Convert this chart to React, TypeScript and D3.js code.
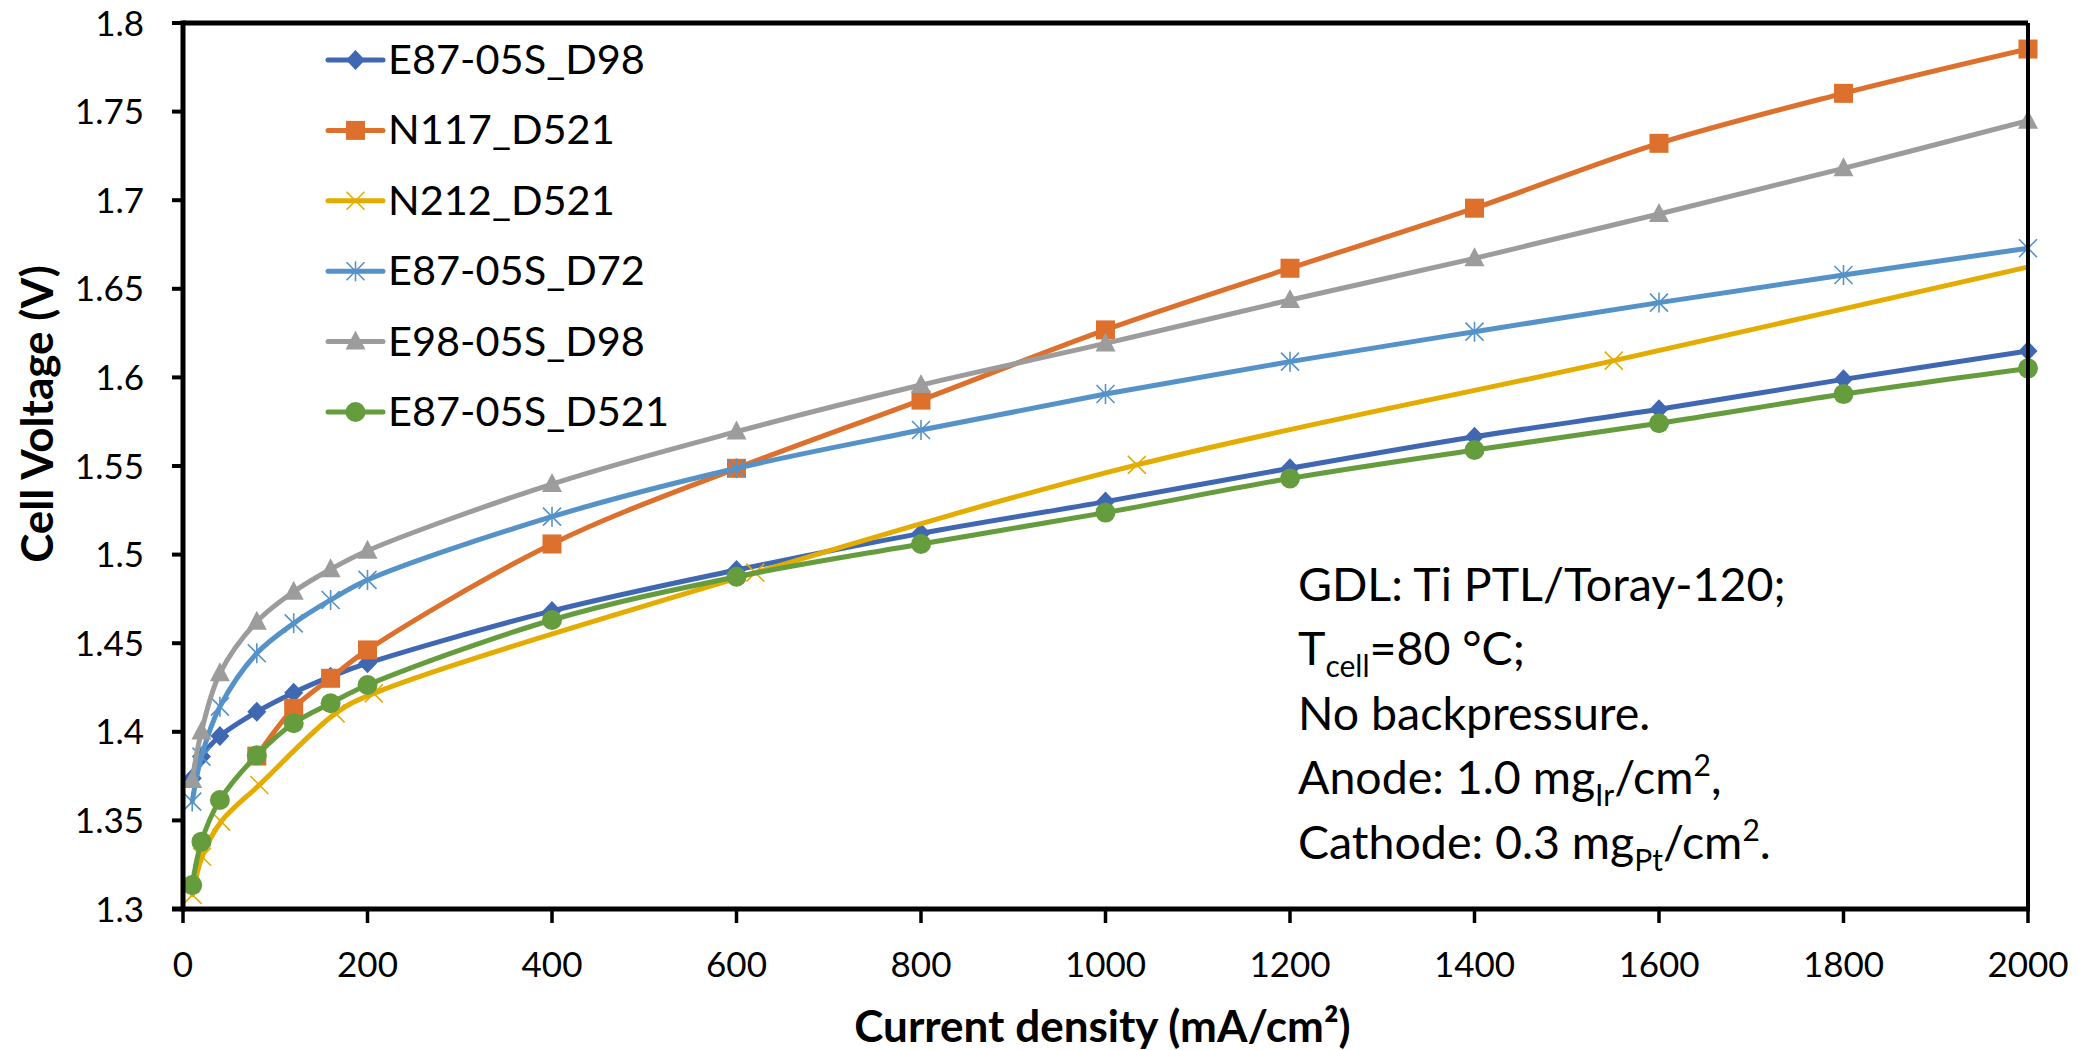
import React from 'react';
import * as d3 from 'd3';

const W = 2079;
const H = 1050;

// ---- data ----
const currentStd = [10, 20, 40, 80, 120, 160, 200, 400, 600, 800, 1000, 1200, 1400, 1600, 1800, 2000];
const currentN117 = [80, 120, 160, 200, 400, 600, 800, 1000, 1200, 1400, 1600, 1800, 2000];
const currentN212 = [10.34, 20.68, 41.36, 82.72, 165.4, 206.8, 620.4, 1034, 1551, 2068];

const vE87D98 = [1.3738, 1.386, 1.3976, 1.4113, 1.4221, 1.4311, 1.4387, 1.4682, 1.4913, 1.512, 1.5299, 1.5487, 1.5665, 1.582, 1.5989, 1.6149];
const vN117D521 = [1.3863, 1.4133, 1.4302, 1.4462, 1.506, 1.5487, 1.5872, 1.6268, 1.6616, 1.6955, 1.7321, 1.7603, 1.7853];
const vN212D521 = [1.308, 1.3295, 1.3493, 1.37, 1.4104, 1.4217, 1.4898, 1.5506, 1.6095, 1.6703];
const vE87D72 = [1.3606, 1.386, 1.4142, 1.4443, 1.4612, 1.4744, 1.4857, 1.5214, 1.5487, 1.5703, 1.5906, 1.6089, 1.6258, 1.6422, 1.6578, 1.6729];
const vE98D98 = [1.3728, 1.4001, 1.433, 1.4621, 1.479, 1.4917, 1.5022, 1.5398, 1.5694, 1.5957, 1.6192, 1.6437, 1.6672, 1.6922, 1.718, 1.7449];
const vE87D521 = [1.3135, 1.338, 1.3615, 1.3867, 1.4048, 1.4161, 1.4264, 1.4631, 1.4875, 1.506, 1.5237, 1.543, 1.559, 1.5741, 1.5906, 1.6051];

const seriesNames = ['E87-05S_D98', 'N117_D521', 'N212_D521', 'E87-05S_D72', 'E98-05S_D98', 'E87-05S_D521'];
const seriesColors = ['#3F67B2', '#DE702D', '#E5AC00', '#5592C8', '#9C9C9C', '#659C3D'];
const seriesShapes = ['diamond', 'square', 'x', 'star', 'triangle', 'circle'];
const seriesX = [currentStd, currentN117, currentN212, currentStd, currentStd, currentStd];
const seriesY = [vE87D98, vN117D521, vN212D521, vE87D72, vE98D98, vE87D521];

const xTicks = [0, 200, 400, 600, 800, 1000, 1200, 1400, 1600, 1800, 2000];
const yTicks = [1.3, 1.35, 1.4, 1.45, 1.5, 1.55, 1.6, 1.65, 1.7, 1.75, 1.8];

const xTitle = 'Current density (mA/cm²)';
const yTitle = 'Cell Voltage (V)';

// ---- layout ----
const PL = 183, PR = 2028, PT = 23, PB = 909;
const FONT = 'Lato, "Open Sans", sans-serif';

function Marker({ shape, x, y, color }: { shape: string; x: number; y: number; color: string }) {
  switch (shape) {
    case 'diamond':
      return <path d={`M${x},${y - 10}L${x + 9.5},${y}L${x},${y + 10}L${x - 9.5},${y}Z`} fill={color} />;
    case 'square':
      return <rect x={x - 9.5} y={y - 9.5} width={19} height={19} fill={color} />;
    case 'x':
      return (
        <path d={`M${x - 9},${y - 9}L${x + 9},${y + 9}M${x - 9},${y + 9}L${x + 9},${y - 9}`}
          stroke={color} strokeWidth={1.6} fill="none" />
      );
    case 'star':
      return (
        <path d={`M${x - 9},${y - 9}L${x + 9},${y + 9}M${x - 9},${y + 9}L${x + 9},${y - 9}M${x},${y - 10}L${x},${y + 10}`}
          stroke={color} strokeWidth={1.6} fill="none" />
      );
    case 'triangle':
      return <path d={`M${x},${y - 11}L${x + 10},${y + 8}L${x - 10},${y + 8}Z`} fill={color} />;
    case 'circle':
    default:
      return <circle cx={x} cy={y} r={10} fill={color} />;
  }
}

export default function App() {
  const x = d3.scaleLinear().domain([0, 2000]).range([PL, PR]);
  const y = d3.scaleLinear().domain([1.3, 1.8]).range([PB, PT]);

  const line = d3
    .line<[number, number]>()
    .x((d) => x(d[0]))
    .y((d) => y(d[1]))
    .curve(d3.curveCatmullRom.alpha(0.5));

  const legendX0 = 328, legendX1 = 383, legendTextX = 388, legendY0 = 60, legendDY = 70.4;

  const annX = 1298, annY0 = 601, annDY = 64.4;

  return (
    <svg width={W} height={H} style={{ position: 'absolute', left: 0, top: 0, background: '#fff' }}
      fontFamily={FONT}>
      <rect x={0} y={0} width={W} height={H} fill="#fff" />
      <defs>
        <clipPath id="plotClip">
          <rect x={PL} y={PT} width={PR - PL} height={PB - PT} />
        </clipPath>
      </defs>

      {/* series */}
      {seriesNames.map((name, i) => {
        const pts: [number, number][] = seriesX[i].map((xv, j) => [xv, seriesY[i][j]]);
        return (
          <g key={name}>
            <path d={line(pts) || ''} fill="none" stroke={seriesColors[i]} strokeWidth={5}
              strokeLinejoin="round" strokeLinecap="round" clipPath="url(#plotClip)" />
            {pts.filter((p) => p[0] <= 2000).map((p, j) => (
              <Marker key={j} shape={seriesShapes[i]} x={x(p[0])} y={y(p[1])} color={seriesColors[i]} />
            ))}
          </g>
        );
      })}

      {/* axes / frame */}
      <line x1={PL} x2={PR} y1={PT} y2={PT} stroke="#000" strokeWidth={5} />
      <line x1={PR} x2={PR} y1={PT} y2={PB} stroke="#000" strokeWidth={4} />
      <line x1={PL} x2={PL} y1={PT - 2.5} y2={PB + 2.5} stroke="#000" strokeWidth={5} />
      <line x1={PL - 11} x2={PR + 2} y1={PB} y2={PB} stroke="#000" strokeWidth={5} />

      {yTicks.map((t) => (
        <g key={t}>
          <line x1={PL - 11} x2={PL} y1={y(t)} y2={y(t)} stroke="#000" strokeWidth={4} />
          <text x={144} y={y(t) + 12.5} textAnchor="end" fontSize={35} fill="#000">
            {d3.format('')(+t.toFixed(2))}
          </text>
        </g>
      ))}
      {xTicks.map((t) => (
        <g key={t}>
          <line x1={x(t)} x2={x(t)} y1={PB} y2={PB + 14} stroke="#000" strokeWidth={3.5} />
          <text x={x(t)} y={977} textAnchor="middle" fontSize={35} fill="#000">
            {t}
          </text>
        </g>
      ))}

      {/* axis titles */}
      <text x={(PL + PR) / 2 - 3} y={1042} textAnchor="middle" fontSize={44} fontWeight="bold" fill="#000">
        {xTitle}
      </text>
      <text transform={`translate(53, ${(PT + PB) / 2 - 52}) rotate(-90)`} textAnchor="middle" fontSize={44}
        fontWeight="bold" fill="#000">
        {yTitle}
      </text>

      {/* legend */}
      {seriesNames.map((name, i) => {
        const ly = legendY0 + i * legendDY;
        return (
          <g key={name}>
            <line x1={legendX0} x2={legendX1} y1={ly} y2={ly} stroke={seriesColors[i]} strokeWidth={5}
              strokeLinecap="round" />
            <Marker shape={seriesShapes[i]} x={(legendX0 + legendX1) / 2} y={ly} color={seriesColors[i]} />
            <text x={legendTextX} y={ly + 14} fontSize={41.5} fill="#000">
              {name}
            </text>
          </g>
        );
      })}

      {/* annotation */}
      <g fontSize={46.5} fill="#000">
        <text x={annX} y={annY0}>GDL: Ti PTL/Toray-120;</text>
        <text x={annX} y={annY0 + annDY}>
          T<tspan fontSize={30} dy={12}>cell</tspan>
          <tspan dy={-12}>=80 °C;</tspan>
        </text>
        <text x={annX} y={annY0 + annDY * 2}>No backpressure.</text>
        <text x={annX} y={annY0 + annDY * 3}>
          Anode: 1.0 mg<tspan fontSize={30} dy={12}>Ir</tspan>
          <tspan dy={-12}>/cm</tspan>
          <tspan fontSize={30} dy={-18}>2</tspan>
          <tspan dy={18}>,</tspan>
        </text>
        <text x={annX} y={annY0 + annDY * 4}>
          Cathode: 0.3 mg<tspan fontSize={30} dy={12}>Pt</tspan>
          <tspan dy={-12}>/cm</tspan>
          <tspan fontSize={30} dy={-18}>2</tspan>
          <tspan dy={18}>.</tspan>
        </text>
      </g>
    </svg>
  );
}
